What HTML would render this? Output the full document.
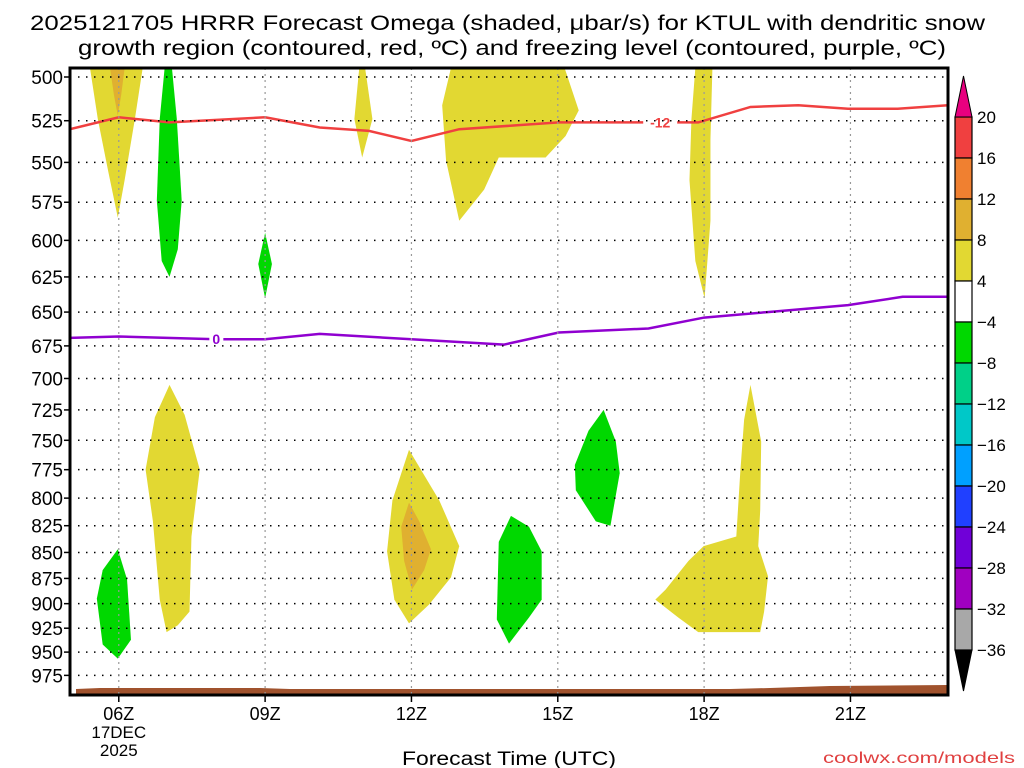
<!DOCTYPE html>
<html><head><meta charset="utf-8"><style>
html,body{margin:0;padding:0;background:#fff;}
svg{display:block;font-family:"Liberation Sans",sans-serif;}
</style></head><body>
<svg id="chart" width="1024" height="768" viewBox="0 0 1024 768">
<text x="30" y="30" font-size="21" textLength="955" lengthAdjust="spacingAndGlyphs">2025121705 HRRR Forecast Omega (shaded, μbar/s) for KTUL with dendritic snow</text>
<text x="78" y="55" font-size="21" textLength="868" lengthAdjust="spacingAndGlyphs">growth region (contoured, red, ºC) and freezing level (contoured, purple, ºC)</text>
<g id="plot"></g>
<text x="509" y="765" font-size="19" text-anchor="middle" textLength="214" lengthAdjust="spacingAndGlyphs">Forecast Time (UTC)</text>
<text x="1015" y="763" font-size="16" fill="#e04040" text-anchor="end" textLength="192" lengthAdjust="spacingAndGlyphs">coolwx.com/models</text>
<g id="cbar"></g>
</svg>
<script>
const pressureTicks=[500,525,550,575,600,625,650,675,700,725,750,775,800,825,850,875,900,925,950,975];
const hourTicks=[6,9,12,15,18,21];
const hourLabels=["06Z","09Z","12Z","15Z","18Z","21Z"];
const cbarLevels=[20,16,12,8,4,-4,-8,-12,-16,-20,-24,-28,-32,-36];
const cbarColors=["#f04040","#f08030","#e0b030","#e2d832","#ffffff","#00d800","#00d088","#00c8c8","#00a0ff","#2040ff","#7000d8","#a000c0","#a8a8a8"];
const yellowTL=[[5.41,495],[6.49,495],[6.33,524],[6.12,561],[5.98,585],[5.78,555],[5.57,524]];
const orangeTL=[[5.82,495],[6.12,495],[6.05,510],[5.98,522],[5.9,510]];
const green07top=[[6.94,495],[7.09,495],[7.19,524],[7.29,574],[7.21,606],[7.04,625],[6.88,614],[6.78,574],[6.84,524]];
const yellow11=[[10.93,495],[11.05,495],[11.2,524],[10.99,547],[10.83,524]];
const green09=[[9,595],[9.14,616],[9,640],[8.86,616]];
const yellowTop13=[[12.81,495],[15.14,495],[15.43,519],[15.16,534],[14.75,547],[13.79,547],[13.49,567],[12.98,587],[12.71,549],[12.63,516]];
const yellow18top=[[17.82,495],[18.17,495],[18.13,536],[18.13,587],[18.01,640],[17.82,614],[17.70,561],[17.74,524]];
const yellow07=[[7.04,705],[7.35,729],[7.66,775],[7.49,835],[7.45,908],[7.21,922],[6.98,929],[6.84,896],[6.70,821],[6.55,775],[6.74,731]];
const green06=[[5.98,847],[6.17,876],[6.25,937],[5.98,957],[5.67,942],[5.55,895],[5.67,867]];
const yellow12=[[11.95,758],[12.57,802],[12.98,844],[12.81,874],[12.36,901],[11.95,920],[11.65,896],[11.5,849],[11.61,802]];
const orange12=[[11.95,804],[12.16,821],[12.4,847],[12.26,867],[12.01,886],[11.85,858],[11.79,826]];
const green14=[[14.04,816],[14.41,826],[14.67,849],[14.67,896],[14.41,914],[14.0,941],[13.75,916],[13.79,840]];
const green16=[[15.94,725],[16.19,751],[16.27,778],[16.08,825],[15.78,821],[15.37,793],[15.35,771],[15.63,742]];
const yellow19=[[18.95,705],[19.17,751],[19.15,811],[19.11,844],[19.31,873],[19.23,908],[19.15,929],[17.88,929],[17.47,914],[17.0,896],[17.21,886],[17.68,858],[17.99,844],[18.66,835],[18.74,778],[18.82,733]];
const regions=[["#e2d832",yellowTL,"upward-omega-region"],["#e0b030",orangeTL,"strong-upward-region"],["#00d800",green07top,"downward-omega-region"],["#e2d832",yellow11,"upward-omega-region"],["#00d800",green09,"downward-omega-region"],["#e2d832",yellowTop13,"upward-omega-region"],["#e2d832",yellow18top,"upward-omega-region"],["#e2d832",yellow07,"upward-omega-region"],["#00d800",green06,"downward-omega-region"],["#e2d832",yellow12,"upward-omega-region"],["#e0b030",orange12,"strong-upward-region"],["#00d800",green14,"downward-omega-region"],["#00d800",green16,"downward-omega-region"],["#e2d832",yellow19,"upward-omega-region"]];
const redHours=[5,6,7.04,9,10.12,11.13,12,12.98,15.02,16.66,17.88,18.95,19.93,20.95,21.97,23];
const redP=[530,523,526,523,529,531,537,530,526,526,526,517,516,518,518,516];
const purpHours=[5,6,8,9,10.12,12,13.9,15.02,16.86,18,19.3,20.95,22.07,23];
const purpP=[669,668,670,670,666,670,674,665,662,654,650,645,639,639];

const X0=70,X1=948,Y0=68,Y1=695,H0=5,H1=23;
const ypx=p=>77+896*Math.log(p/500);
const xpx=h=>X0+(h-H0)*(X1-X0)/(H1-H0);
const NS="http://www.w3.org/2000/svg";
const plot=document.getElementById('plot');
function mk(tag,attrs,parent){const e=document.createElementNS(NS,tag);for(const k in attrs)e.setAttribute(k,attrs[k]);(parent||plot).appendChild(e);return e;}
const clip=mk('clipPath',{id:'pc'});mk('rect',{x:X0,y:Y0,width:X1-X0,height:Y1-Y0},clip);
const g=mk('g',{'clip-path':'url(#pc)'});
regions.forEach(r=>{
  const e=mk('polygon',{points:r[1].map(d=>xpx(d[0])+','+ypx(d[1])).join(' '),fill:r[0]},g);
  
  
});
const ter=mk('polygon',{points:`${X0+6},695 ${X0+6},689 ${X0+30},688 ${X0+190},688 ${X0+220},689 ${X0+660},689 ${X0+700},688 ${X0+760},686 ${X1},685 ${X1},695`,fill:'#a0522d'},g);


pressureTicks.forEach((p,i)=>{
  const y=ypx(p);
  const gl=mk('line',{x1:X0,x2:X1,y1:y,y2:y,stroke:'#000','stroke-width':1.5,'stroke-dasharray':'1.5 6.5'});
  
  
  mk('line',{x1:X0-6,x2:X0,y1:y,y2:y,stroke:'#000','stroke-width':1.5});
  const t=mk('text',{x:X0-7,y:y+7,'font-size':19,'text-anchor':'end'});t.textContent=p;
  
  
});
hourTicks.forEach((h,i)=>{
  const x=xpx(h);
  const gl=mk('line',{x1:x,x2:x,y1:Y0,y2:Y1,stroke:'#999','stroke-width':1.2,'stroke-dasharray':'2 4'});
  
  
  mk('line',{x1:x,x2:x,y1:Y1,y2:Y1+7,stroke:'#000','stroke-width':1.5});
  const t=mk('text',{x:x,y:720,'font-size':18,'text-anchor':'middle'});t.textContent=hourLabels[i];
  
  
});
const d1=mk('text',{x:xpx(6),y:738,'font-size':17,'text-anchor':'middle'});d1.textContent='17DEC';


const d2=mk('text',{x:xpx(6),y:756,'font-size':17,'text-anchor':'middle'});d2.textContent='2025';


function line(hs,ps,col,name,lh,lab){
  const e=mk('polyline',{points:hs.map((h,i)=>xpx(h)+','+ypx(ps[i])).join(' '),fill:'none',stroke:col,'stroke-width':2.5},g);
  
  
  const x=xpx(lh);let j=0;while(j<hs.length-2&&hs[j+1]<lh)j++;
  const p=ps[j]+(ps[j+1]-ps[j])*(lh-hs[j])/(hs[j+1]-hs[j]);
  mk('rect',{x:x-lab.length*5-2,y:ypx(p)-6,width:lab.length*10+4,height:12,fill:'#fff'},g);
  const t=mk('text',{x:x,y:ypx(p)+5,'font-size':14,'font-weight':'bold',fill:col,'text-anchor':'middle'},g);t.textContent=lab;
  
  
}
line(redHours,redP,'#f04040','dgz-contour',17.1,'-12');
line(purpHours,purpP,'#9000d0','freezing-level-contour',8.0,'0');
mk('rect',{x:X0,y:Y0,width:X1-X0,height:Y1-Y0,fill:'none',stroke:'#000','stroke-width':3});
const cb=document.getElementById('cbar');
const CX=955,CW=17,CT=117,CS=41;
cbarColors.forEach((c,i)=>{
  const r=mk('rect',{x:CX,y:CT+i*CS,width:CW,height:CS,fill:c,stroke:'#000','stroke-width':1.2},cb);
  
  
});
const tu=mk('polygon',{points:`${CX},${CT} ${CX+CW},${CT} ${CX+CW/2},${CT-41}`,fill:'#e8007f',stroke:'#000'},cb);


const td=mk('polygon',{points:`${CX},${CT+13*CS} ${CX+CW},${CT+13*CS} ${CX+CW/2},${CT+13*CS+41}`,fill:'#000',stroke:'#000'},cb);


cbarLevels.forEach((v,i)=>{
  const t=mk('text',{x:977,y:CT+i*CS+6,'font-size':17},cb);t.textContent=v<0?'\u2212'+(-v):v;
  
  
});
</script>
</body></html>
